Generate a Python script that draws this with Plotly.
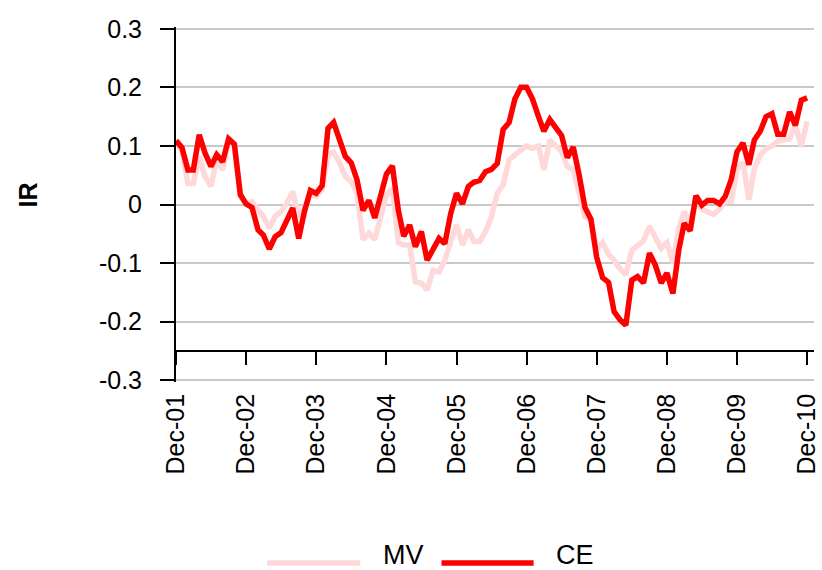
import pandas as pd
import plotly.graph_objects as go

# monthly information ratio, Dec-01 .. Dec-10
meses = pd.date_range("2001-12-01", periods=109, freq="MS")

mv = [0.105, 0.093, 0.036, 0.036, 0.082, 0.048, 0.031, 0.076, 0.059, 0.108,
      0.099, 0.014, 0.002, 0.005, -0.009, -0.021, -0.040, -0.021, -0.012, 0.002,
      0.022, -0.021, -0.006, 0.019, 0.014, 0.025, 0.085, 0.089, 0.071, 0.048,
      0.039, 0.019, -0.060, -0.049, -0.060, -0.020, 0.016, 0.028, -0.065, -0.069,
      -0.069, -0.132, -0.134, -0.146, -0.112, -0.115, -0.095, -0.063, -0.035, -0.069,
      -0.043, -0.063, -0.063, -0.046, -0.021, 0.019, 0.034, 0.076, 0.085, 0.093,
      0.100, 0.096, 0.100, 0.059, 0.110, 0.102, 0.091, 0.065, 0.059, 0.019,
      -0.021, -0.026, -0.075, -0.065, -0.085, -0.095, -0.110, -0.120, -0.078, -0.070,
      -0.062, -0.037, -0.055, -0.075, -0.065, -0.100, -0.040, -0.012, -0.030, 0.005,
      -0.008, -0.012, -0.017, -0.008, 0.005, 0.005, 0.060, 0.072, 0.008, 0.060,
      0.085, 0.095, 0.100, 0.108, 0.110, 0.112, 0.135, 0.100, 0.142]

ce = [0.109, 0.097, 0.059, 0.059, 0.119, 0.088, 0.065, 0.085, 0.073, 0.112,
      0.103, 0.017, 0.001, -0.005, -0.043, -0.052, -0.076, -0.055, -0.048, -0.029,
      -0.006, -0.058, -0.012, 0.024, 0.019, 0.032, 0.130, 0.140, 0.112, 0.082,
      0.071, 0.042, -0.010, 0.007, -0.023, 0.015, 0.052, 0.066, -0.010, -0.054,
      -0.035, -0.072, -0.046, -0.095, -0.075, -0.058, -0.067, -0.015, 0.019, 0.001,
      0.031, 0.038, 0.041, 0.056, 0.060, 0.070, 0.128, 0.140, 0.180, 0.200,
      0.200, 0.180, 0.150, 0.125, 0.145, 0.130, 0.118, 0.080, 0.098, 0.050,
      -0.005, -0.025, -0.090, -0.125, -0.133, -0.183, -0.197, -0.206, -0.129, -0.123,
      -0.134, -0.083, -0.103, -0.134, -0.117, -0.152, -0.077, -0.032, -0.045, 0.015,
      -0.001, 0.007, 0.007, 0.001, 0.014, 0.043, 0.090, 0.105, 0.068, 0.110,
      0.125, 0.150, 0.155, 0.120, 0.120, 0.158, 0.135, 0.178, 0.182]

x_ticks = pd.date_range("2001-12-01", periods=10, freq="12MS")
x_labels = ["Dec-01", "Dec-02", "Dec-03", "Dec-04", "Dec-05",
            "Dec-06", "Dec-07", "Dec-08", "Dec-09", "Dec-10"]
y_ticks = [-0.3, -0.2, -0.1, 0, 0.1, 0.2, 0.3]
y_labels = ["-0.3", "-0.2", "-0.1", "0", "0.1", "0.2", "0.3"]

ROSA = "#FFD9D9"
ROJO = "#FF0000"
FUENTE = "Liberation Sans, Arial, sans-serif"

fig = go.Figure()
fig.add_trace(go.Scatter(x=meses, y=mv, mode="lines", name="MV",
                         line=dict(color=ROSA, width=5.5), showlegend=False))
fig.add_trace(go.Scatter(x=meses, y=ce, mode="lines", name="CE",
                         line=dict(color=ROJO, width=5.5), showlegend=False))

W, H = 822, 570
# y range padded a hair so the edge gridlines at +-0.3 are still drawn
pad = 0.003
L, R, T, B = 176, 2, 27, 188
pw, ph = W - L - R, H - T - B


def px_x(p):
    return (p - L) / pw


def px_y(p):
    return (H - B - p) / ph


fig.update_layout(
    width=W, height=H,
    margin=dict(l=L, r=R, t=T, b=B),
    paper_bgcolor="white", plot_bgcolor="white",
    font=dict(family=FUENTE, size=25, color="black"),
)

fig.update_yaxes(
    range=[-0.3 - pad, 0.3 + pad], tickvals=y_ticks, ticktext=y_labels,
    showgrid=True, gridcolor="#C8C8C8", gridwidth=2,
    zeroline=False, showline=True, linecolor="black", linewidth=2,
    ticks="outside", ticklen=14, tickwidth=2, tickcolor="black",
    ticklabelstandoff=13,
)

fig.update_xaxes(
    type="date", range=["2001-12-01", "2011-01-06"],
    tickvals=x_ticks, ticktext=x_labels, tickangle=-90,
    anchor="free", position=(0.05 + pad) / (0.6 + 2 * pad),
    showgrid=False, zeroline=False,
    showline=True, linecolor="black", linewidth=2,
    ticks="outside", ticklen=13, tickwidth=2, tickcolor="black",
    ticklabelstandoff=19, ticklabeloverflow="allow",
)

# y title
fig.add_annotation(text="<b>IR</b>", xref="paper", yref="paper",
                   x=px_x(27), y=px_y(195), xanchor="center", yanchor="middle",
                   showarrow=False, textangle=-90, font=dict(size=25))

# legend drawn by hand (long line samples)
for x0, x1, col, txt, tx in [(268, 362, ROSA, "MV", 383), (444, 537, ROJO, "CE", 558)]:
    fig.add_shape(type="line", xref="paper", yref="paper",
                  x0=px_x(x0), x1=px_x(x1), y0=px_y(563), y1=px_y(563),
                  line=dict(color=col, width=5.5))
    fig.add_annotation(text=txt, xref="paper", yref="paper",
                       x=px_x(tx), y=px_y(555), xanchor="left", yanchor="middle",
                       showarrow=False, font=dict(size=27))

fig.write_html("out.html", config={"displayModeBar": False},
               post_script="document.body.style.margin='0';")
